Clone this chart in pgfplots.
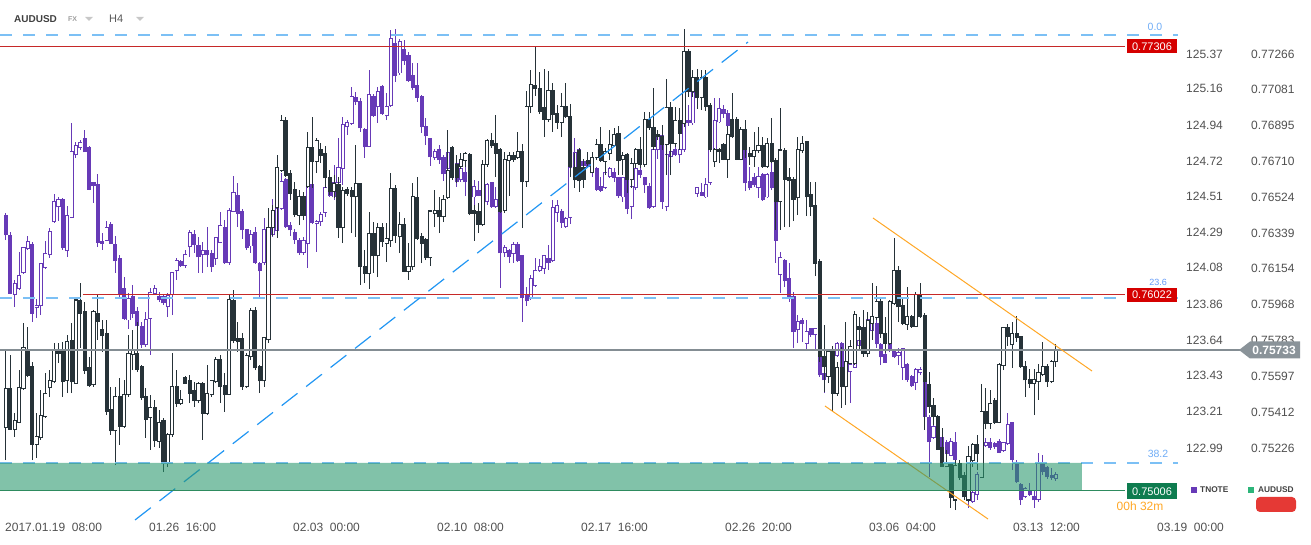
\documentclass[border=0pt]{standalone}
\usepackage{fontspec}
\setmainfont{Liberation Sans}
\usepackage{pgfplots}
\usepackage{pgfplotstable}
\pgfplotsset{compat=1.18}
\definecolor{cblack}{HTML}{263238}
\definecolor{cpurple}{HTML}{673AB7}
\definecolor{fibblue}{HTML}{7CC0F5}
\definecolor{trendblue}{HTML}{2196F3}
\definecolor{lvlred}{HTML}{C62828}
\definecolor{boxred}{HTML}{D50000}
\definecolor{lvlgray}{HTML}{848D93}
\definecolor{boxgray}{HTML}{8A9399}
\definecolor{zonegreen}{HTML}{26966B}
\definecolor{linegreen}{HTML}{2E8B5F}
\definecolor{boxgreen}{HTML}{0E7C4F}
\definecolor{orng}{HTML}{FFA726}
\definecolor{txtgray}{HTML}{505050}
\definecolor{legred}{HTML}{E53935}
\definecolor{leggreen}{HTML}{2DB57A}
\newcommand\tf{\fontsize{12bp}{14bp}\selectfont}

\pgfplotstableread{
x o h l c
0 0.75334 0.75733 0.75163 0.75531
1 0.75531 0.75707 0.75319 0.75323
2 0.75323 0.75406 0.75283 0.75370
3 0.75360 0.75629 0.75354 0.75537
4 0.75531 0.75872 0.75526 0.75744
5 0.75738 0.75852 0.75593 0.75603
6 0.75650 0.75671 0.75163 0.75246
7 0.75246 0.75406 0.75174 0.75283
8 0.75278 0.75526 0.75267 0.75396
9 0.75386 0.75613 0.75381 0.75510
10 0.75537 0.75629 0.75490 0.75573
11 0.75568 0.75769 0.75562 0.75728
12 0.75728 0.75769 0.75665 0.75717
13 0.75723 0.75775 0.75490 0.75568
14 0.75573 0.75811 0.75510 0.75775
15 0.75780 0.75872 0.75510 0.75568
16 0.75562 0.76008 0.75557 0.75992
17 0.75987 0.76080 0.75744 0.75924
18 0.75935 0.75982 0.75608 0.75629
19 0.75640 0.75697 0.75542 0.75547
20 0.75552 0.75940 0.75542 0.75930
21 0.75924 0.76023 0.75785 0.75883
22 0.75837 0.75888 0.75723 0.75806
23 0.75816 0.75888 0.75396 0.75417
24 0.75427 0.75542 0.75293 0.75314
25 0.75314 0.75542 0.75137 0.75490
26 0.75490 0.75588 0.75241 0.75339
27 0.75339 0.75578 0.75329 0.75500
28 0.75500 0.75811 0.75490 0.75717
29 0.75712 0.75837 0.75629 0.75733
30 0.75717 0.75878 0.75619 0.75634
31 0.75645 0.75655 0.75474 0.75485
32 0.75490 0.75537 0.75278 0.75375
33 0.75381 0.75500 0.75215 0.75433
34 0.75433 0.75474 0.75231 0.75262
35 0.75257 0.75422 0.75226 0.75360
36 0.75370 0.75381 0.75101 0.75147
37 0.75147 0.75303 0.75127 0.75293
38 0.75293 0.75717 0.75283 0.75542
39 0.75542 0.75629 0.75438 0.75458
40 0.75458 0.75526 0.75448 0.75479
41 0.75588 0.75598 0.75557 0.75562
42 0.75573 0.75603 0.75458 0.75510
43 0.75521 0.75568 0.75438 0.75469
44 0.75469 0.75568 0.75458 0.75557
45 0.75557 0.75568 0.75267 0.75406
46 0.75406 0.75655 0.75396 0.75510
47 0.75500 0.75578 0.75490 0.75573
48 0.75568 0.75697 0.75562 0.75686
49 0.75686 0.75707 0.75458 0.75542
50 0.75547 0.75613 0.75412 0.75505
51 0.75505 0.76018 0.75500 0.75997
52 0.75987 0.76044 0.75769 0.75780
53 0.75790 0.75878 0.75723 0.75775
54 0.75790 0.75821 0.75526 0.75542
55 0.75542 0.75717 0.75537 0.75702
56 0.75697 0.75951 0.75681 0.75940
57 0.75940 0.75956 0.75629 0.75640
58 0.75645 0.75655 0.75510 0.75573
59 0.75573 0.75801 0.75542 0.75796
60 0.75785 0.76469 0.75769 0.76365
61 0.76365 0.76484 0.76324 0.76458
62 0.76469 0.76743 0.76314 0.76676
63 0.76665 0.76950 0.76655 0.76924
64 0.76924 0.76940 0.76629 0.76639
65 0.76649 0.76665 0.76510 0.76546
66 0.76562 0.76604 0.76422 0.76437
67 0.76432 0.76562 0.76380 0.76526
68 0.76526 0.76552 0.76406 0.76432
69 0.76578 0.76863 0.76573 0.76780
70 0.76780 0.76940 0.76573 0.76712
71 0.76712 0.76832 0.76649 0.76816
72 0.76774 0.76805 0.76701 0.76743
73 0.76753 0.76790 0.76573 0.76624
74 0.76629 0.76665 0.76536 0.76552
75 0.76552 0.76639 0.76521 0.76598
76 0.76588 0.76629 0.76314 0.76370
77 0.76370 0.76578 0.76287 0.76557
78 0.76562 0.76578 0.76531 0.76546
79 0.76557 0.76578 0.76339 0.76526
80 0.76526 0.76795 0.76319 0.76593
81 0.76593 0.76598 0.76070 0.76163
82 0.76168 0.76251 0.76080 0.76131
83 0.76131 0.76448 0.76049 0.76339
84 0.76339 0.76396 0.76131 0.76220
85 0.76225 0.76390 0.76111 0.76365
86 0.76365 0.76390 0.76267 0.76293
87 0.76287 0.76390 0.76189 0.76308
88 0.76298 0.76649 0.76267 0.76567
89 0.76567 0.76588 0.76287 0.76324
90 0.76319 0.76448 0.76235 0.76385
91 0.76385 0.76417 0.76137 0.76142
92 0.76142 0.76287 0.76096 0.76168
93 0.76163 0.76598 0.76147 0.76526
94 0.76521 0.76629 0.76303 0.76308
95 0.76319 0.76339 0.76183 0.76287
96 0.76303 0.76314 0.76199 0.76210
97 0.76210 0.76458 0.76168 0.76453
98 0.76442 0.76562 0.76370 0.76458
99 0.76453 0.76526 0.76339 0.76422
100 0.76422 0.76536 0.76396 0.76515
101 0.76521 0.76873 0.76515 0.76665
102 0.76780 0.76790 0.76614 0.76624
103 0.76696 0.76743 0.76598 0.76629
104 0.76686 0.76753 0.76670 0.76722
105 0.76717 0.76759 0.76681 0.76753
106 0.76748 0.76753 0.76432 0.76442
107 0.76458 0.76484 0.76298 0.76442
108 0.76448 0.76494 0.76339 0.76385
109 0.76385 0.76717 0.76375 0.76696
110 0.76696 0.76826 0.76681 0.76816
111 0.76816 0.76857 0.76780 0.76790
112 0.76805 0.76950 0.76629 0.76753
113 0.76774 0.76780 0.76442 0.76453
114 0.76458 0.76759 0.76442 0.76722
115 0.76717 0.76759 0.76531 0.76738
116 0.76738 0.76759 0.76707 0.76722
117 0.76728 0.76863 0.76722 0.76759
118 0.76759 0.76800 0.76365 0.76604
119 0.76604 0.77075 0.76578 0.76992
120 0.76992 0.77183 0.76960 0.77106
121 0.77101 0.77308 0.77049 0.77085
122 0.77085 0.77173 0.76955 0.76971
123 0.76987 0.77188 0.76837 0.76929
124 0.76929 0.77178 0.76914 0.77075
125 0.77075 0.77116 0.76863 0.76955
126 0.76960 0.77002 0.76877 0.76914
127 0.76914 0.77064 0.76837 0.76992
128 0.76992 0.77116 0.76935 0.76940
129 0.76945 0.77007 0.76629 0.76681
130 0.76676 0.76753 0.76573 0.76614
131 0.76764 0.76780 0.76552 0.76609
132 0.76676 0.76722 0.76573 0.76618
133 0.76717 0.76759 0.76681 0.76701
134 0.76655 0.76759 0.76649 0.76728
135 0.76728 0.76826 0.76717 0.76795
136 0.76795 0.76888 0.76707 0.76717
137 0.76712 0.76780 0.76639 0.76759
138 0.76753 0.76873 0.76717 0.76795
139 0.76790 0.76883 0.76785 0.76847
140 0.76852 0.76893 0.76639 0.76717
141 0.76722 0.76759 0.76639 0.76743
142 0.76748 0.76753 0.76546 0.76618
143 0.76614 0.76728 0.76573 0.76701
144 0.76701 0.76780 0.76676 0.76774
145 0.76774 0.76837 0.76676 0.76696
146 0.76696 0.76966 0.76681 0.76929
147 0.76929 0.76966 0.76873 0.76883
148 0.76888 0.77091 0.76769 0.76785
149 0.76847 0.76873 0.76821 0.76837
150 0.76837 0.76898 0.76769 0.76795
151 0.76795 0.77136 0.76639 0.76987
152 0.76987 0.77018 0.76639 0.76805
153 0.76805 0.76992 0.76785 0.76924
154 0.76924 0.76987 0.76769 0.76857
155 0.76908 0.77395 0.76888 0.77277
156 0.77277 0.77292 0.77044 0.77070
157 0.77070 0.77183 0.77044 0.77142
158 0.77142 0.77188 0.76981 0.77039
159 0.77039 0.77183 0.76976 0.77147
160 0.77147 0.77183 0.76971 0.76992
161 0.77002 0.77012 0.76759 0.76769
162 0.76707 0.76780 0.76681 0.76769
163 0.76774 0.76780 0.76701 0.76759
164 0.76795 0.76805 0.76717 0.76722
165 0.76722 0.76893 0.76624 0.76847
166 0.76929 0.77064 0.76832 0.76837
167 0.76929 0.76940 0.76717 0.76722
168 0.76722 0.76888 0.76717 0.76873
169 0.76873 0.76924 0.76728 0.76769
170 0.76753 0.76785 0.76691 0.76733
171 0.76733 0.76863 0.76681 0.76764
172 0.76764 0.76888 0.76753 0.76790
173 0.76790 0.76837 0.76676 0.76681
174 0.76681 0.76832 0.76676 0.76805
175 0.76805 0.76935 0.76701 0.76707
176 0.76717 0.76728 0.76355 0.76500
177 0.76500 0.76987 0.76355 0.76769
178 0.76764 0.76780 0.76370 0.76618
179 0.76624 0.76676 0.76370 0.76609
180 0.76618 0.76629 0.76401 0.76515
181 0.76521 0.76837 0.76432 0.76774
182 0.76764 0.76842 0.76753 0.76805
183 0.76811 0.76816 0.76427 0.76526
184 0.76536 0.76604 0.76427 0.76474
185 0.76479 0.76604 0.76116 0.76183
186 0.76194 0.76204 0.75671 0.75697
187 0.75697 0.75862 0.75516 0.75645
188 0.75598 0.75733 0.75562 0.75723
189 0.75723 0.75754 0.75417 0.75510
190 0.75510 0.75671 0.75495 0.75640
191 0.75640 0.75749 0.75433 0.75542
192 0.75542 0.75878 0.75448 0.75671
193 0.75665 0.75785 0.75660 0.75749
194 0.75665 0.75935 0.75655 0.75919
195 0.75857 0.75904 0.75733 0.75841
196 0.75847 0.75940 0.75697 0.75717
197 0.75717 0.75930 0.75697 0.75888
198 0.75872 0.76080 0.75785 0.75909
199 0.75899 0.76065 0.75888 0.75982
200 0.75982 0.75997 0.75796 0.75816
201 0.75821 0.75904 0.75717 0.75769
202 0.75769 0.75992 0.75759 0.75982
203 0.75976 0.76314 0.75966 0.76147
204 0.76147 0.76168 0.75878 0.75956
205 0.75961 0.76003 0.75862 0.75872
206 0.75867 0.76060 0.75837 0.75909
207 0.75904 0.75914 0.75847 0.75857
208 0.75857 0.76034 0.75852 0.76023
209 0.76023 0.76080 0.75899 0.75904
210 0.75914 0.75924 0.75319 0.75568
211 0.75552 0.75619 0.75406 0.75438
212 0.75443 0.75485 0.75344 0.75386
213 0.75391 0.75396 0.75215 0.75220
214 0.75226 0.75329 0.75127 0.75132
215 0.75132 0.75215 0.75127 0.75147
216 0.75147 0.75153 0.74915 0.74967
217 0.74956 0.75163 0.74904 0.75137
218 0.75147 0.75163 0.75060 0.75075
219 0.75085 0.75101 0.74956 0.74972
220 0.74956 0.75236 0.74946 0.75179
221 0.75163 0.75251 0.75127 0.75246
222 0.75241 0.75293 0.75111 0.75199
223 0.75075 0.75557 0.75070 0.75412
224 0.75412 0.75537 0.75323 0.75354
225 0.75354 0.75526 0.75323 0.75458
226 0.75469 0.75485 0.75349 0.75360
227 0.75360 0.75665 0.75354 0.75660
228 0.75655 0.75852 0.75629 0.75847
229 0.75847 0.75867 0.75754 0.75801
230 0.75759 0.75878 0.75640 0.75816
231 0.75816 0.75909 0.75775 0.75796
232 0.75801 0.75806 0.75640 0.75645
233 0.75650 0.75676 0.75490 0.75578
234 0.75582 0.75634 0.75537 0.75562
235 0.75562 0.75634 0.75396 0.75582
236 0.75568 0.75660 0.75474 0.75619
237 0.75608 0.75775 0.75598 0.75650
238 0.75650 0.75660 0.75542 0.75568
239 0.75568 0.75681 0.75562 0.75671
240 0.75671 0.75764 0.75645 0.75738
}\audtab

\pgfplotstableread{
x o h l c
0 124.397 124.409 124.246 124.277
1 124.271 124.295 123.920 123.926
2 123.920 124.005 123.842 123.981
3 123.951 124.174 123.944 124.029
4 124.047 124.204 124.041 124.198
5 124.192 124.271 124.186 124.240
6 124.222 124.234 123.751 123.805
7 123.836 123.890 123.775 123.848
8 123.848 124.108 123.793 124.102
9 124.078 124.240 124.072 124.162
10 124.156 124.319 124.138 124.295
11 124.355 124.524 124.349 124.476
12 124.446 124.506 124.361 124.488
13 124.488 124.500 124.186 124.198
14 124.180 124.452 124.144 124.397
15 124.385 124.953 124.379 124.778
16 124.760 124.838 124.742 124.820
17 124.802 124.850 124.790 124.838
18 124.857 124.911 124.778 124.778
19 124.802 124.814 124.548 124.554
20 124.591 124.597 124.470 124.573
21 124.579 124.645 124.204 124.234
22 124.240 124.289 124.186 124.228
23 124.246 124.361 124.240 124.319
24 124.337 124.355 124.222 124.228
25 124.222 124.271 124.047 124.120
26 124.132 124.156 123.902 123.926
27 123.951 124.023 123.763 123.775
28 123.763 123.926 123.709 123.890
29 123.902 123.975 123.775 123.805
30 123.817 123.842 123.721 123.727
31 123.721 123.751 123.594 123.612
32 123.612 123.811 123.600 123.769
33 123.775 123.957 123.552 123.932
34 123.926 123.975 123.914 123.951
35 123.902 123.932 123.872 123.884
36 123.902 123.914 123.854 123.866
37 123.842 123.926 123.781 123.908
38 123.914 124.053 123.793 124.047
39 124.059 124.138 124.005 124.120
40 124.114 124.126 124.084 124.090
41 124.090 124.186 124.078 124.156
42 124.204 124.307 124.144 124.289
43 124.277 124.307 124.168 124.216
44 124.210 124.265 124.047 124.144
45 124.156 124.234 124.047 124.180
46 124.180 124.325 124.084 124.156
47 124.162 124.186 124.053 124.084
48 124.132 124.265 124.096 124.259
49 124.234 124.415 124.228 124.331
50 124.319 124.367 124.102 124.108
51 124.108 124.440 124.096 124.427
52 124.421 124.633 124.415 124.536
53 124.518 124.591 124.325 124.409
54 124.421 124.434 124.253 124.307
55 124.307 124.313 124.186 124.198
56 124.210 124.307 124.168 124.277
57 124.289 124.325 124.102 124.108
58 124.102 124.114 123.896 124.059
59 124.108 124.379 124.096 124.307
60 124.313 124.373 124.240 124.246
61 124.277 124.494 124.265 124.385
62 124.301 124.452 124.259 124.434
63 124.434 124.651 124.427 124.597
64 124.609 124.621 124.319 124.325
65 124.331 124.355 124.271 124.307
66 124.289 124.313 124.222 124.252
67 124.246 124.259 124.156 124.168
68 124.168 124.265 124.156 124.246
69 124.228 124.579 124.078 124.567
70 124.579 124.591 124.343 124.349
71 124.343 124.367 124.174 124.361
72 124.355 124.415 124.331 124.403
73 124.415 124.591 124.385 124.561
74 124.615 124.639 124.506 124.518
75 124.506 124.699 124.488 124.591
76 124.591 124.862 124.579 124.687
77 124.681 124.990 124.579 124.941
78 124.929 124.971 124.881 124.953
79 124.947 125.171 124.941 125.116
80 125.110 125.140 125.062 125.080
81 125.080 125.104 124.899 124.923
82 124.911 124.923 124.742 124.808
83 124.814 125.273 124.808 125.128
84 125.116 125.128 124.990 124.996
85 125.050 125.171 124.953 125.146
86 125.171 125.183 125.002 125.008
87 124.996 125.134 124.971 125.050
88 125.056 125.515 125.050 125.461
89 125.436 125.521 125.201 125.237
90 125.255 125.461 125.243 125.448
91 125.400 125.454 125.303 125.328
92 125.358 125.382 125.201 125.207
93 125.237 125.315 125.152 125.165
94 125.177 125.315 125.080 125.110
95 125.116 125.122 124.893 124.929
96 124.929 124.984 124.820 124.875
97 124.857 124.862 124.694 124.748
98 124.742 124.796 124.730 124.778
99 124.790 124.820 124.706 124.730
100 124.742 124.760 124.603 124.645
101 124.681 124.911 124.651 124.772
102 124.772 124.790 124.742 124.748
103 124.706 124.730 124.567 124.597
104 124.609 124.699 124.597 124.681
105 124.657 124.687 124.512 124.597
106 124.597 124.609 124.494 124.506
107 124.506 124.609 124.415 124.567
108 124.548 124.603 124.512 124.518
109 124.561 124.579 124.440 124.446
110 124.476 124.591 124.458 124.579
111 124.591 124.597 124.440 124.446
112 124.446 124.567 124.440 124.488
113 124.488 124.506 123.957 124.168
114 124.168 124.216 124.144 124.198
115 124.180 124.192 124.108 124.144
116 124.162 124.234 124.108 124.222
117 124.222 124.234 124.114 124.120
118 124.150 124.156 123.751 123.896
119 123.920 123.963 123.848 123.878
120 123.896 124.035 123.884 124.011
121 123.969 124.138 123.963 124.059
122 124.059 124.132 124.053 124.084
123 124.072 124.156 124.041 124.150
124 124.132 124.216 124.065 124.108
125 124.120 124.488 124.114 124.440
126 124.415 124.488 124.355 124.452
127 124.421 124.434 124.319 124.349
128 124.325 124.385 124.319 124.379
129 124.385 124.699 124.343 124.687
130 124.609 124.862 124.597 124.772
131 124.790 124.802 124.681 124.687
132 124.718 124.736 124.633 124.699
133 124.706 124.730 124.681 124.693
134 124.730 124.760 124.627 124.651
135 124.681 124.687 124.542 124.554
136 124.567 124.627 124.536 124.548
137 124.561 124.657 124.554 124.651
138 124.627 124.687 124.621 124.681
139 124.657 124.681 124.597 124.621
140 124.621 124.627 124.500 124.518
141 124.506 124.627 124.476 124.621
142 124.621 124.627 124.403 124.434
143 124.446 124.573 124.373 124.567
144 124.561 124.687 124.548 124.681
145 124.669 124.712 124.621 124.639
146 124.621 124.627 124.530 124.579
147 124.567 124.591 124.434 124.440
148 124.446 124.802 124.440 124.790
149 124.790 124.893 124.736 124.875
150 124.875 124.881 124.434 124.476
151 124.446 124.772 124.421 124.760
152 124.748 124.838 124.736 124.778
153 124.790 124.838 124.754 124.760
154 124.760 124.838 124.712 124.790
155 124.790 125.038 124.778 124.959
156 124.971 125.062 124.935 124.953
157 124.953 125.152 124.941 125.140
158 124.530 124.567 124.506 124.561
159 124.536 124.591 124.512 124.518
160 124.506 124.621 124.500 124.579
161 124.591 124.899 124.579 124.893
162 124.778 125.104 124.772 124.971
163 124.959 125.104 124.953 125.038
164 125.032 125.062 124.984 125.008
165 125.008 125.032 124.929 124.935
166 124.935 124.971 124.862 124.911
167 124.953 124.990 124.850 124.893
168 124.911 124.929 124.730 124.736
169 124.808 124.850 124.542 124.591
170 124.597 124.687 124.548 124.561
171 124.621 124.651 124.567 124.579
172 124.561 124.687 124.500 124.627
173 124.639 124.651 124.482 124.488
174 124.506 124.651 124.500 124.639
175 124.651 124.772 124.548 124.561
176 124.567 124.579 124.108 124.246
177 124.035 124.174 123.926 124.138
178 124.120 124.132 123.963 123.999
179 124.011 124.108 123.872 123.896
180 123.902 123.932 123.594 123.691
181 123.703 123.793 123.624 123.751
182 123.757 123.775 123.630 123.739
183 123.624 123.763 123.582 123.691
184 123.709 123.715 123.661 123.673
185 123.673 123.715 123.582 123.709
186 123.691 123.703 123.419 123.431
187 123.437 123.479 123.322 123.401
188 123.425 123.582 123.383 123.564
189 123.491 123.582 123.473 123.564
190 123.546 123.630 123.540 123.624
191 123.624 123.630 123.262 123.389
192 123.509 123.521 123.298 123.365
193 123.449 123.642 123.262 123.497
194 123.479 123.624 123.473 123.606
195 123.606 123.673 123.582 123.642
196 123.594 123.751 123.582 123.715
197 123.691 123.811 123.673 123.769
198 123.697 123.823 123.673 123.787
199 123.739 123.805 123.594 123.618
200 123.618 123.624 123.491 123.540
201 123.552 123.564 123.503 123.509
202 123.624 123.642 123.570 123.582
203 123.570 123.582 123.534 123.540
204 123.546 123.594 123.491 123.564
205 123.479 123.594 123.401 123.588
206 123.497 123.503 123.389 123.401
207 123.419 123.431 123.359 123.365
208 123.383 123.473 123.340 123.461
209 123.443 123.479 123.431 123.461
210 123.443 123.449 123.129 123.183
211 123.177 123.189 122.815 123.026
212 123.051 123.129 123.045 123.117
213 123.117 123.129 122.978 122.990
214 123.051 123.057 122.875 122.887
215 123.026 123.038 122.953 122.959
216 122.947 123.051 122.941 123.032
217 123.020 123.087 122.917 122.923
218 122.887 122.899 122.809 122.821
219 122.821 122.833 122.682 122.694
220 122.767 122.797 122.628 122.676
221 122.664 122.736 122.658 122.718
222 122.706 122.845 122.676 122.827
223 123.069 123.099 122.959 122.978
224 123.002 123.051 122.996 123.020
225 123.020 123.051 122.978 122.990
226 123.014 123.026 122.984 122.996
227 123.032 123.045 122.959 122.965
228 122.972 123.026 122.966 123.020
229 123.014 123.201 123.008 123.129
230 123.141 123.147 122.857 122.923
231 122.905 122.917 122.779 122.785
232 122.767 122.779 122.646 122.676
233 122.694 122.754 122.688 122.748
234 122.736 122.779 122.700 122.706
235 122.694 122.736 122.628 122.676
236 122.676 122.959 122.664 122.899
237 122.905 122.947 122.827 122.845
238 122.869 122.881 122.803 122.815
239 122.821 122.869 122.797 122.809
240 122.803 122.845 122.791 122.827
}\tntab

% #1 table, #2 colour, #3 half a pixel in data units, #4 one pixel in data units
\newcommand\candles[4]{%
% wicks
\addplot[draw=none, mark=none, forget plot, error bars/.cd, y dir=plus, y explicit, error mark=none,
  error bar style={draw=#2, line width=1bp}]
  table[x=x, y=l, y error plus expr={\thisrow{h}-\thisrow{l}}] {#1};
% up bodies (outline colour)
\addplot[draw=none, mark=none, forget plot, restrict expr to domain={\thisrow{c}-\thisrow{o}}{0:1000},
  error bars/.cd, y dir=plus, y explicit, error mark=none, error bar style={draw=#2, line width=4.2bp}]
  table[x=x, y expr={\thisrow{o}-#3}, y error plus expr={\thisrow{c}-\thisrow{o}+#4}] {#1};
% down bodies (filled)
\addplot[draw=none, mark=none, forget plot, restrict expr to domain={\thisrow{o}-\thisrow{c}}{0:1000},
  error bars/.cd, y dir=plus, y explicit, error mark=none, error bar style={draw=#2, line width=4.2bp}]
  table[x=x, y expr={\thisrow{c}-#3}, y error plus expr={\thisrow{o}-\thisrow{c}+#4}] {#1};
% hollow interior of up bodies
\addplot[draw=none, mark=none, forget plot, restrict expr to domain={\thisrow{c}-\thisrow{o}}{#4:1000},
  error bars/.cd, y dir=plus, y explicit, error mark=none, error bar style={draw=white, line width=2.4bp}]
  table[x=x, y expr={\thisrow{o}+#3}, y error plus expr={\thisrow{c}-\thisrow{o}-#4}] {#1};
}

\pgfplotsset{base/.style={width=1178bp, height=503bp, scale only axis, at={(0bp,24bp)}, anchor=south west,
  xmin=-1.3714, xmax=267.886, axis line style={draw=none}, major tick length=0pt, minor tick num=0,
  yticklabel pos=right, ticklabel style={font=\tf, text=txtgray},
  yticklabel style={anchor=west, inner sep=0pt}}}

\begin{document}
\begin{tikzpicture}
\path[use as bounding box] (0bp,0bp) rectangle (1311bp,545bp);

% TNOTE (purple)
\begin{axis}[base, ymin=122.5488, ymax=125.5873, xtick=\empty,
  ytick={125.37,125.16,124.94,124.72,124.51,124.29,124.08,123.86,123.64,123.43,123.21,122.99},
  yticklabels={125.37,125.16,124.94,124.72,124.51,124.29,124.08,123.86,123.64,123.43,123.21,122.99},
  yticklabel style={xshift=8bp}]
\candles{\tntab}{cpurple}{0.003}{0.006}
\end{axis}

% AUDUSD (black)
\begin{axis}[base, ymin=0.7484722, ymax=0.7745276, clip=false,
  ytick={0.77266,0.77081,0.76895,0.76710,0.76524,0.76339,0.76154,0.75968,0.75783,0.75597,0.75412,0.75226},
  yticklabels={0.77266,0.77081,0.76895,0.76710,0.76524,0.76339,0.76154,0.75968,0.75783,0.75597,0.75412,0.75226},
  yticklabel style={xshift=73bp},
  xtick={-0.23,32.69,65.6,98.51,131.43,164.34,197.26,230.17,263.09},
  xticklabels={2017.01.19\ \ 08:00,01.26\ \ 16:00,02.03\ \ 00:00,02.10\ \ 08:00,02.17\ \ 16:00,02.26\ \ 20:00,03.06\ \ 04:00,03.13\ \ 12:00,03.19\ \ 00:00},
  xticklabel style={anchor=north west, inner sep=0pt, yshift=-1.5bp}]
\candles{\audtab}{cblack}{0.000026}{0.000052}
% levels
\addplot[fibblue, line width=2bp, dash pattern=on 12bp off 11bp, forget plot] coordinates {(-1.3714,0.77365) (267.886,0.77365)};
\addplot[lvlred, line width=1.3bp, forget plot] coordinates {(-1.3714,0.77306) (255.77,0.77306)};
\addplot[fibblue, line width=2bp, dash pattern=on 12bp off 11bp, forget plot] coordinates {(-1.3714,0.76002) (267.886,0.76002)};
\addplot[lvlred, line width=1bp, forget plot] coordinates {(17.6,0.76022) (255.77,0.76022)};
\addplot[lvlgray, line width=1.2bp, forget plot] coordinates {(-1.3714,0.75733) (282.06,0.75733)};
\addplot[fibblue, line width=2bp, dash pattern=on 12bp off 11bp, forget plot] coordinates {(-1.3714,0.75148) (267.886,0.75148)};
% trend lines
\addplot[trendblue, line width=1.2bp, dash pattern=on 20bp off 11bp, forget plot] coordinates {(29.49,0.748524) (169.6,0.773284)};
\addplot[orng, line width=1bp, forget plot] coordinates {(198.17,0.764168) (248.23,0.756242)};
\addplot[orng, line width=1bp, forget plot] coordinates {(187.2,0.754429) (224.46,0.748576)};
% zone
\addplot[fill=zonegreen, fill opacity=0.58, draw=none, forget plot] coordinates {(-1.3714,0.75006) (245.94,0.75006) (245.94,0.75148) (-1.3714,0.75148) (-1.3714,0.75006)};
\addplot[linegreen, line width=1.3bp, forget plot] coordinates {(-1.3714,0.75006) (255.77,0.75006)};
\end{axis}

% header
\node[anchor=west, inner sep=0pt, text=black!75, font=\bfseries\fontsize{10bp}{12bp}\selectfont] at (14bp,526bp) {AUDUSD};
\node[anchor=west, inner sep=0pt, text=black!38, font=\bfseries\fontsize{7bp}{8bp}\selectfont] at (68bp,526bp) {FX};
\fill[black!22] (85bp,528bp) -- (93bp,528bp) -- (89bp,524bp) -- cycle;
\node[anchor=west, inner sep=0pt, text=black!65, font=\fontsize{11bp}{13bp}\selectfont] at (109bp,526bp) {H4};
\fill[black!22] (136bp,528bp) -- (144bp,528bp) -- (140bp,524bp) -- cycle;

% level labels
\node[text=fibblue!90!blue, font=\fontsize{10.5bp}{12bp}\selectfont] at (1155bp,518.5bp) {0.0};
\node[fill=boxred, text=white, minimum width=50bp, minimum height=14bp, inner sep=0pt, font=\fontsize{11bp}{12bp}\selectfont] at (1152bp,498.5bp) {0.77306};
\node[fill=boxred, text=white, minimum width=50bp, minimum height=14bp, inner sep=0pt, font=\fontsize{11bp}{12bp}\selectfont] at (1152bp,250bp) {0.76022};
\node[text=fibblue!80!blue, font=\fontsize{9bp}{10bp}\selectfont] at (1158bp,263bp) {23.6};
\fill[boxgray] (1239bp,195bp) -- (1250bp,203.5bp) -- (1300bp,203.5bp) -- (1300bp,186.5bp) -- (1250bp,186.5bp) -- cycle;
\node[text=white, font=\bfseries\fontsize{12bp}{14bp}\selectfont] at (1274bp,195bp) {0.75733};
\node[text=fibblue!90!blue, font=\fontsize{10.5bp}{12bp}\selectfont] at (1158bp,91bp) {38.2};
\node[fill=boxgreen, text=white, minimum width=50bp, minimum height=16bp, inner sep=0pt, font=\fontsize{11bp}{12bp}\selectfont] at (1152bp,53.5bp) {0.75006};
\node[text=orng, font=\fontsize{12bp}{14bp}\selectfont] at (1140bp,38.5bp) {00h 32m};

% legend
\fill[cpurple] (1191bp,52bp) rectangle (1197bp,58bp);
\node[anchor=west, inner sep=0pt, text=black!75, font=\bfseries\fontsize{8.3bp}{10bp}\selectfont] at (1200bp,55bp) {TNOTE};
\fill[leggreen] (1248bp,52bp) rectangle (1254bp,58bp);
\node[anchor=west, inner sep=0pt, text=black!75, font=\bfseries\fontsize{8.3bp}{10bp}\selectfont] at (1258bp,55bp) {AUDUSD};
\fill[legred, rounded corners=4bp] (1256bp,33bp) rectangle (1296bp,48bp);
\end{tikzpicture}
\end{document}
